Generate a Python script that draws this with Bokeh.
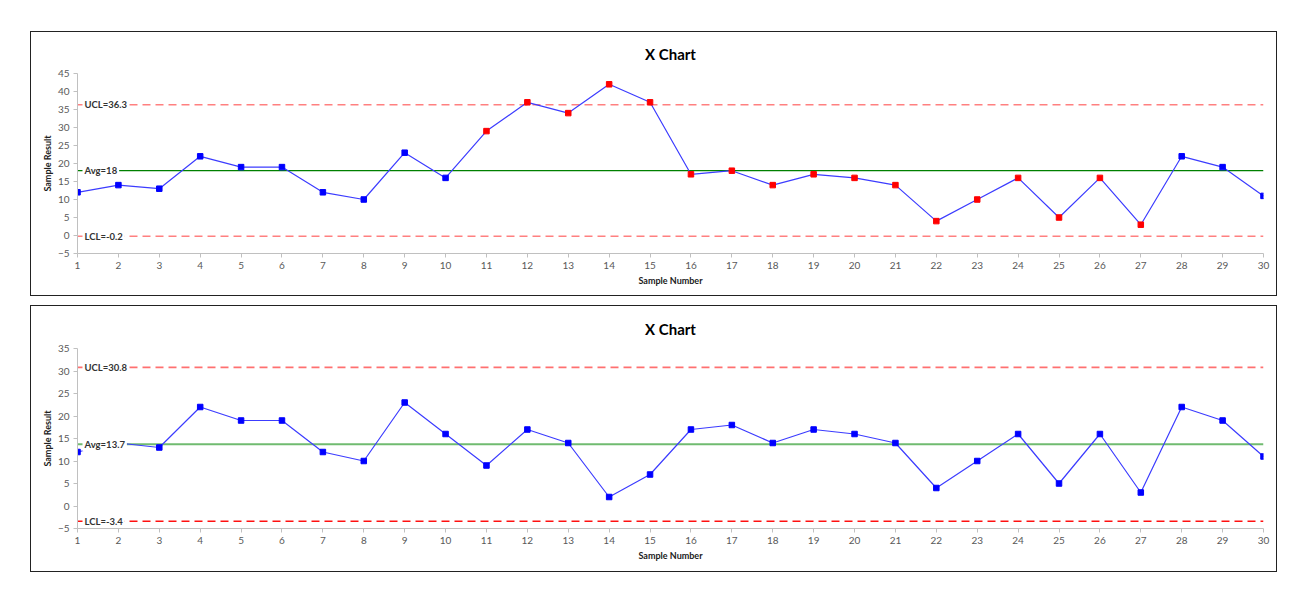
from bokeh.plotting import figure
from bokeh.models import Range1d, FixedTicker, Span, ColumnDataSource
from bokeh.layouts import column
from bokeh.core.properties import value
from bokeh.embed import file_html
from bokeh.resources import INLINE

samples = list(range(1, 31))
top_values = [12, 14, 13, 22, 19, 19, 12, 10, 23, 16, 29, 37, 34, 42, 37,
              17, 18, 14, 17, 16, 14, 4, 10, 16, 5, 16, 3, 22, 19, 11]
top_flagged = [11, 12, 13, 14, 15, 16, 17, 18, 19, 20, 21, 22, 23, 24, 25, 26, 27]
top_limits = {"UCL": 36.3, "Avg": 18, "LCL": -0.2}
top_yticks = [-5, 0, 5, 10, 15, 20, 25, 30, 35, 40, 45]

bottom_values = [12, 14, 13, 22, 19, 19, 12, 10, 23, 16, 9, 17, 14, 2, 7,
                 17, 18, 14, 17, 16, 14, 4, 10, 16, 5, 16, 3, 22, 19, 11]
bottom_flagged = []
bottom_limits = {"UCL": 30.8, "Avg": 13.7, "LCL": -3.4}
bottom_yticks = [-5, 0, 5, 10, 15, 20, 25, 30, 35]

chart_title = "X Chart"
FONT = "Lato"


def make_chart(yticks, height, top, bottom):
    p = figure(width=1247, height=height, output_backend="svg", toolbar_location=None,
               x_range=Range1d(1, 30), y_range=Range1d(yticks[0], yticks[-1]),
               min_border_left=46, min_border_right=15,
               min_border_top=top, min_border_bottom=bottom, title=chart_title)
    p.styles = {"border": "1px solid #222", "box-sizing": "border-box"}
    p.outline_line_color = None
    p.xgrid.visible = False
    p.ygrid.visible = False

    p.title.align = "center"
    p.title.vertical_align = "middle"
    p.title.standoff = 19
    p.title.text_font = FONT
    p.title.text_font_size = "15px"
    p.title.text_font_style = "bold"
    p.title.text_color = "#000000"

    p.xaxis.ticker = FixedTicker(ticks=samples)
    p.yaxis.ticker = FixedTicker(ticks=yticks)
    for ax in (p.xaxis, p.yaxis):
        ax.axis_line_color = "#c0c0c0"
        ax.major_tick_line_color = "#c0c0c0"
        ax.minor_tick_line_color = None
        ax.major_tick_in = 0
        ax.major_tick_out = 4
        ax.major_label_text_font = FONT
        ax.major_label_text_font_size = "10px"
        ax.major_label_text_color = "#595959"
        ax.axis_label_text_font = FONT
        ax.axis_label_text_font_size = "9px"
        ax.axis_label_text_font_style = "bold"
        ax.axis_label_text_color = "#202020"
    p.xaxis.axis_label = "Sample Number"
    p.yaxis.axis_label = "Sample Result"
    p.xaxis.major_label_standoff = 4
    p.xaxis.axis_label_standoff = 3
    p.yaxis.major_label_standoff = 4
    p.yaxis.axis_label_standoff = 2
    return p


def draw(p, vals, flagged, limits, styles):
    for key, (color, width, dash) in styles.items():
        p.add_layout(Span(location=limits[key], dimension="width", level="underlay",
                          line_color=color, line_width=width, line_dash=dash))
    colors = ["#ff0000" if s in flagged else "#0000ff" for s in samples]
    src = ColumnDataSource(dict(x=samples, y=vals, c=colors))
    p.line("x", "y", source=src, line_color="#3c3cff", line_width=1.2)
    p.scatter("x", "y", source=src, marker="square", size=5.5,
              fill_color="c", line_color="c")
    names = list(limits.keys())
    lsrc = ColumnDataSource(dict(
        x=[1] * len(names),
        y=[limits[n] for n in names],
        t=[f"{n}={limits[n]}" for n in names]))
    p.text("x", "y", text="t", source=lsrc, x_offset=5,
           text_font=value(FONT), text_font_size="9.5px", text_font_style="bold",
           text_color="#333333", text_baseline="middle", text_align="left",
           background_fill_color="white", padding=2)


top_styles = {"UCL": ("#ff8080", 1.6, "8 5"), "LCL": ("#ff8080", 1.6, "8 5"),
              "Avg": ("#008000", 1.3, "solid")}
bottom_styles = {"UCL": ("#ff7070", 1.6, "8 5"), "LCL": ("#ff1010", 1.6, "8 5"),
                 "Avg": ("#70bb70", 2.0, "solid")}

p1 = make_chart(top_yticks, 265, 41, 44)
draw(p1, top_values, top_flagged, top_limits, top_styles)
p2 = make_chart(bottom_yticks, 267, 42, 45)
draw(p2, bottom_values, bottom_flagged, bottom_limits, bottom_styles)

layout = column(p1, p2, spacing=9, margin=(31, 0, 0, 30))
open("out.html", "w").write(file_html(layout, INLINE))
